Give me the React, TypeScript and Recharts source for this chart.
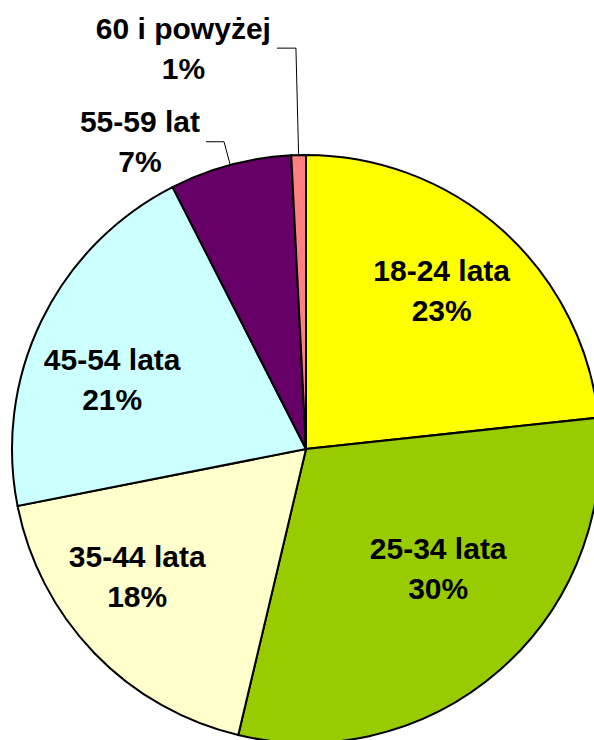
import React from 'react';
import { PieChart, Pie, Cell } from 'recharts';

const categories = ['18-24 lata', '25-34 lata', '35-44 lata', '45-54 lata', '55-59 lat', '60 i powyżej'];
const shares = [23.3, 30.4, 18.2, 20.6, 6.7, 0.8];
const colors = ['#FFFF00', '#99CC00', '#FFFFCC', '#CCFFFF', '#660066', '#FF8080'];

const data = categories.map((name, i) => ({ name, value: shares[i] }));

const FONT_FAMILY = '"Liberation Sans", Arial, sans-serif';
const FONT_SIZE = 30;
const LINE_GAP = 40;

// label layout (radius fraction and clockwise turn relative to slice middle)
const INSIDE: Record<number, { r: number; turn: number }> = {
  0: { r: 0.71, turn: -1.4 },
  1: { r: 0.605, turn: -6.6 },
  2: { r: 0.72, turn: 6.8 },
  3: { r: 0.7, turn: -6.3 },
};
const OUTSIDE: Record<number, { elbow: number; arm: number }> = {
  4: { elbow: 24, arm: 18 },
  5: { elbow: 107, arm: 19 },
};

let ctx: CanvasRenderingContext2D | null = null;
function textWidth(s: string): number {
  if (!ctx) ctx = document.createElement('canvas').getContext('2d');
  if (!ctx) return s.length * FONT_SIZE * 0.55;
  ctx.font = `bold ${FONT_SIZE}px ${FONT_FAMILY}`;
  return ctx.measureText(s).width;
}

const RAD = Math.PI / 180;

function TwoLines({ x, y, a, b }: { x: number; y: number; a: string; b: string }) {
  const st = { fontFamily: FONT_FAMILY, fontSize: FONT_SIZE, fontWeight: 700 as const };
  return (
    <g>
      <text x={x} y={y - LINE_GAP / 2} textAnchor="middle" dominantBaseline="central" fill="#000" style={st}>
        {a}
      </text>
      <text x={x} y={y + LINE_GAP / 2} textAnchor="middle" dominantBaseline="central" fill="#000" style={st}>
        {b}
      </text>
    </g>
  );
}

function renderLabel(props: any) {
  const { cx, cy, midAngle, outerRadius, percent, index } = props;
  const name = categories[index];
  const pct = `${Math.round(percent * 100)}%`;
  if (INSIDE[index]) {
    const { r, turn } = INSIDE[index];
    const a = (midAngle - turn) * RAD;
    const x = cx + outerRadius * r * Math.cos(a);
    const y = cy - outerRadius * r * Math.sin(a);
    return <TwoLines key={`l${index}`} x={x} y={y} a={name} b={pct} />;
  }
  const o = OUTSIDE[index];
  const a = midAngle * RAD;
  const sx = cx + outerRadius * Math.cos(a);
  const sy = cy - outerRadius * Math.sin(a);
  const ex = cx + (outerRadius + o.elbow) * Math.cos(a);
  const ey = cy - (outerRadius + o.elbow) * Math.sin(a);
  const hx = ex - o.arm;
  const w = Math.max(textWidth(name), textWidth(pct));
  const tx = hx - 6 - w / 2;
  return (
    <g key={`l${index}`}>
      <polyline points={`${sx},${sy} ${ex},${ey} ${hx},${ey}`} fill="none" stroke="#000" strokeWidth={1} />
      <TwoLines x={tx} y={ey} a={name} b={pct} />
    </g>
  );
}

export default function App() {
  return (
    <div style={{ position: 'absolute', left: 0, top: 0, width: 594, height: 740, background: '#fff', overflow: 'hidden' }}>
      <PieChart width={594} height={740} margin={{ top: 0, right: 0, bottom: 0, left: 0 }}>
        <Pie
          data={data}
          dataKey="value"
          nameKey="name"
          cx={306}
          cy={449}
          outerRadius={294}
          startAngle={90}
          endAngle={-270}
          isAnimationActive={false}
          label={renderLabel}
          labelLine={false}
          stroke="#000"
          strokeWidth={2}
        >
          {data.map((d, i) => (
            <Cell key={d.name} fill={colors[i]} stroke="#000" strokeWidth={2} />
          ))}
        </Pie>
      </PieChart>
    </div>
  );
}
